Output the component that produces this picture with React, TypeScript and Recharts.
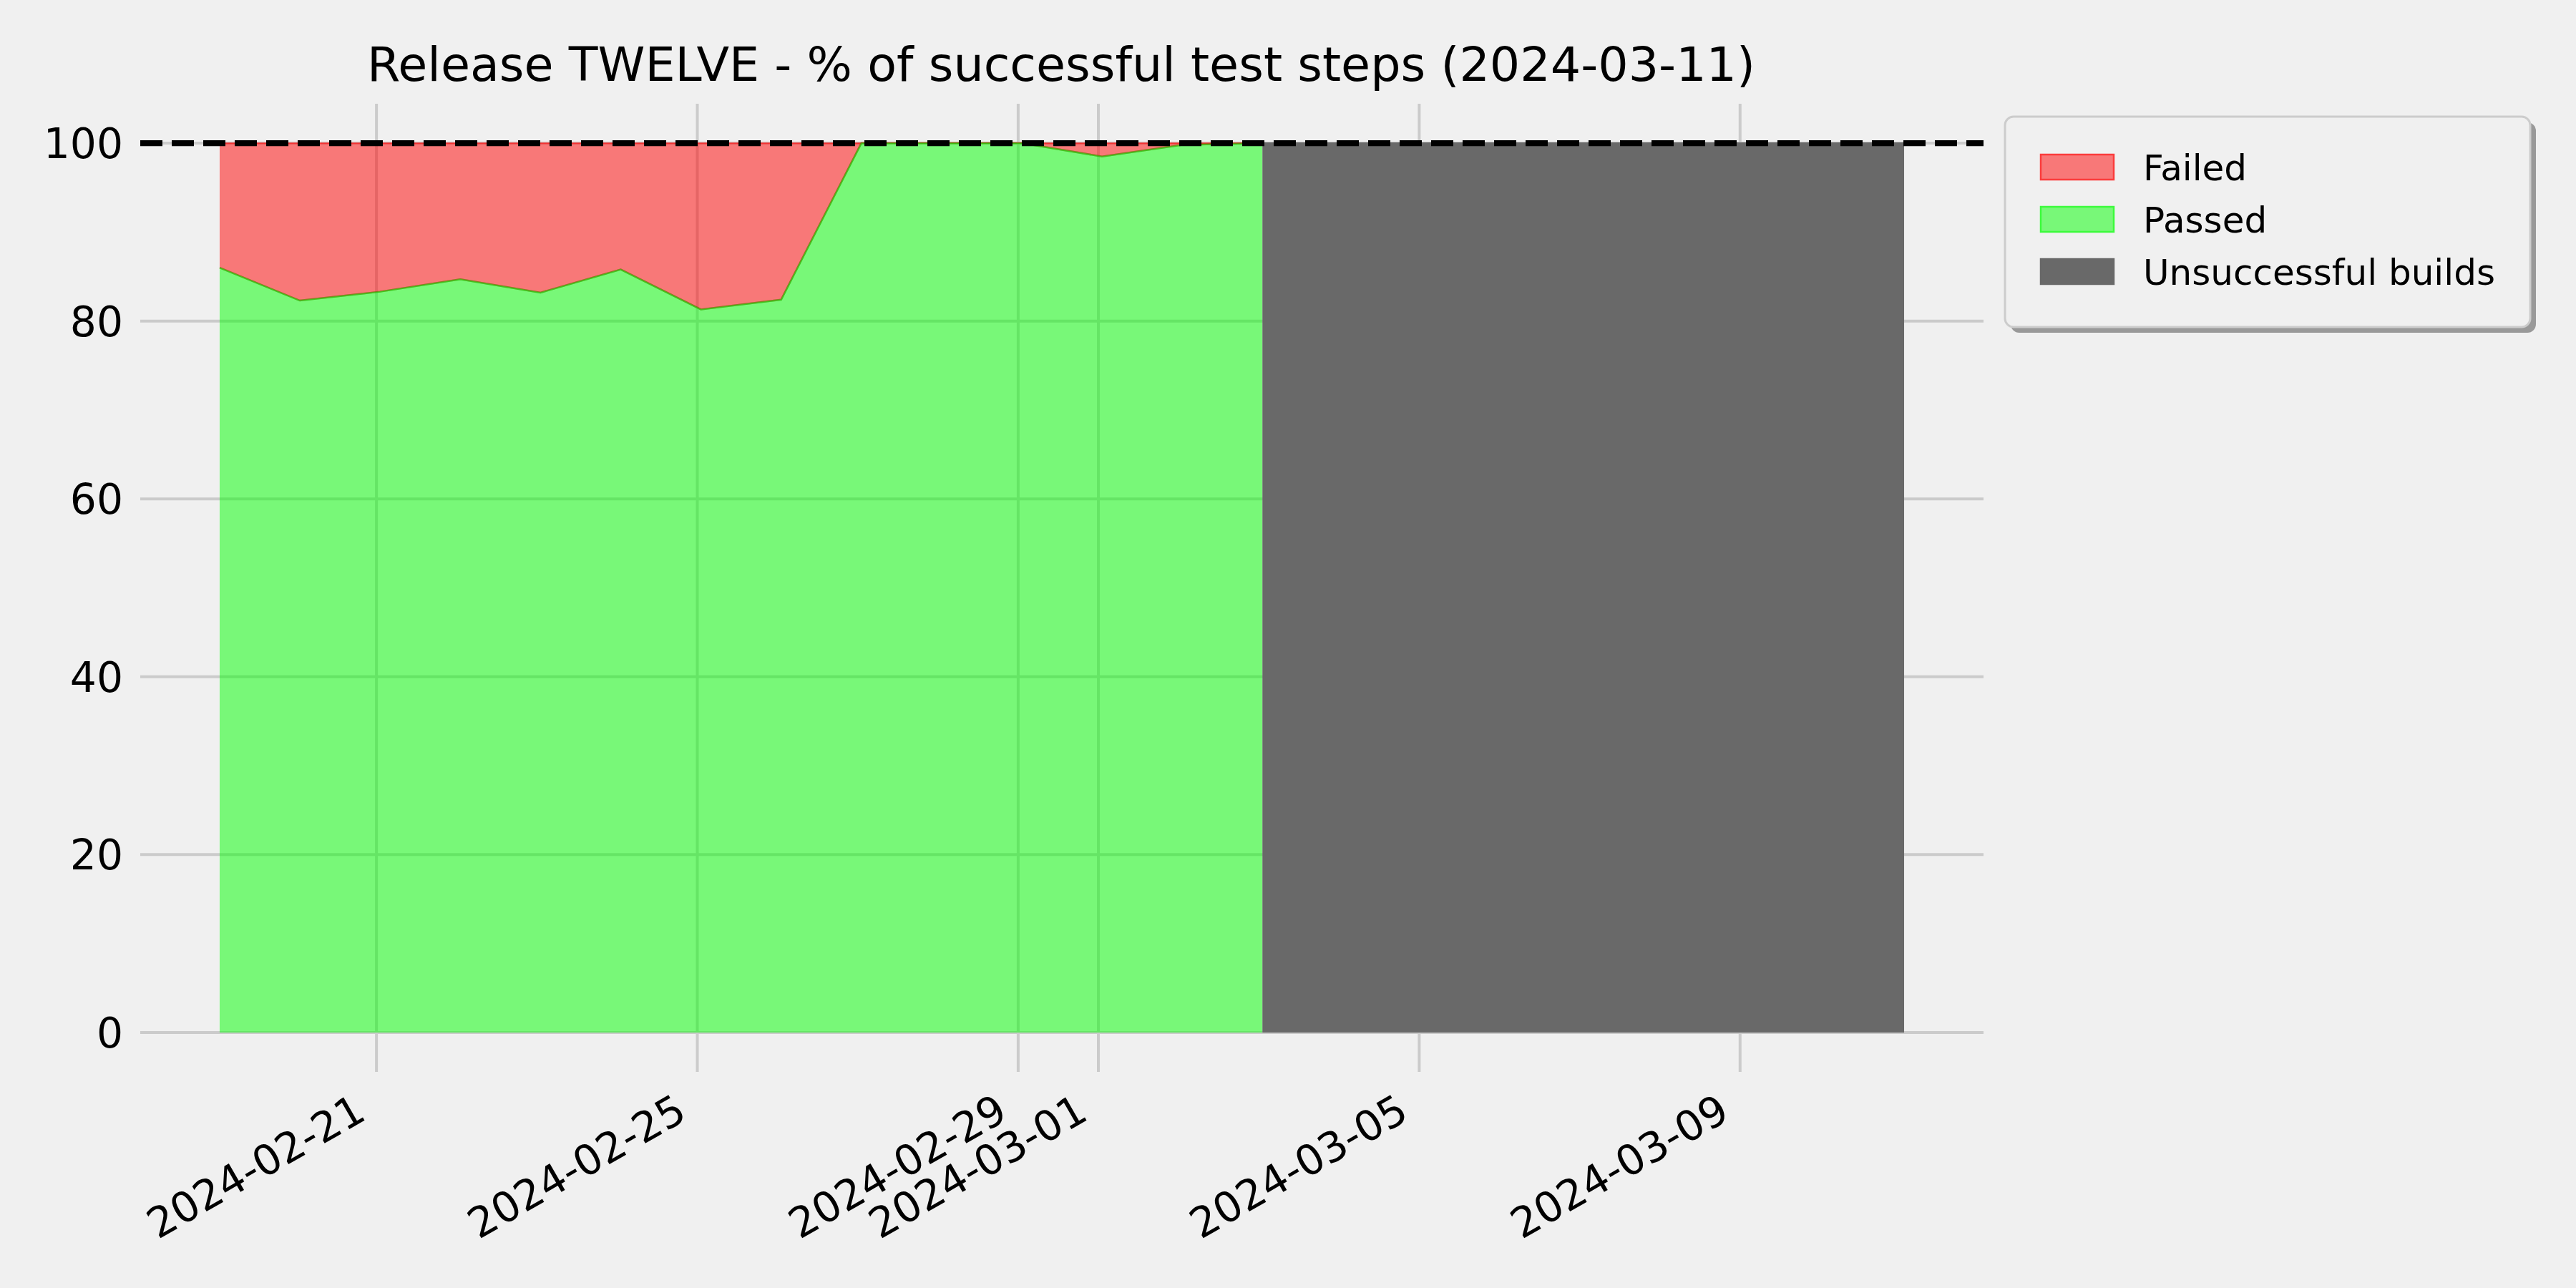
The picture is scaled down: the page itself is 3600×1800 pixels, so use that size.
import React from "react";
import {
  ComposedChart,
  Area,
  XAxis,
  YAxis,
  CartesianGrid,
  ReferenceLine,
} from "recharts";

const DAY_MS = 86400000;
// builds finish a bit after midnight, so each point sits ~1h right of its date tick
const BUILD_OFFSET = 0.045;
const X_PAD = 0.99;

const testDates = [
  "2024-02-19", "2024-02-20", "2024-02-21", "2024-02-22", "2024-02-23",
  "2024-02-24", "2024-02-25", "2024-02-26", "2024-02-27", "2024-02-28",
  "2024-02-29", "2024-03-01", "2024-03-02", "2024-03-03",
];
const passedPct = [86.0, 82.3, 83.3, 84.7, 83.2, 85.8, 81.3, 82.4, 100, 100, 100, 98.5, 99.8, 100];
const failedPct = [14.0, 17.7, 16.7, 15.3, 16.8, 14.2, 18.7, 17.6, 0, 0, 0, 1.5, 0.2, 0];

const brokenDates = [
  "2024-03-03", "2024-03-04", "2024-03-05", "2024-03-06", "2024-03-07",
  "2024-03-08", "2024-03-09", "2024-03-10", "2024-03-11",
];
const brokenPct = [100, 100, 100, 100, 100, 100, 100, 100, 100];

const tickDates = ["2024-02-21", "2024-02-25", "2024-02-29", "2024-03-01", "2024-03-05", "2024-03-09"];
const yTicks = [0, 20, 40, 60, 80, 100];

const legendItems = [
  { label: "Failed", fill: "#f87878", edge: "#fb3c3c" },
  { label: "Passed", fill: "#78f878", edge: "#3cfb3c" },
  { label: "Unsuccessful builds", fill: "#696969", edge: "#696969" },
];

const TITLE = "Release TWELVE - % of successful test steps (2024-03-11)";
const FONT = "DejaVu Sans";

const toDay = (s: string) =>
  Date.UTC(+s.slice(0, 4), +s.slice(5, 7) - 1, +s.slice(8, 10)) / DAY_MS;
const fmtDay = (d: number) => new Date(Math.round(d) * DAY_MS).toISOString().slice(0, 10);

type Row = { t: number; passed: number | null; failed: number | null; broken: number | null };

const buildRows = (): Row[] => {
  const all = Array.from(new Set([...testDates, ...brokenDates])).sort();
  return all.map((d) => {
    const i = testDates.indexOf(d);
    const j = brokenDates.indexOf(d);
    return {
      t: toDay(d) + BUILD_OFFSET,
      passed: i >= 0 ? passedPct[i] : null,
      failed: i >= 0 ? failedPct[i] : null,
      broken: j >= 0 ? brokenPct[j] : null,
    };
  });
};

const rows = buildRows();
const xMin = rows[0].t - X_PAD;
const xMax = rows[rows.length - 1].t + X_PAD;
const tickDays = tickDates.map(toDay);

const DateTick = (props: any) => {
  const { x, y, payload } = props;
  const ax = x - 12;
  const ay = y + 65;
  return (
    <text
      x={ax}
      y={ay}
      textAnchor="end"
      transform={`rotate(-30, ${ax}, ${ay})`}
      fontSize={58.3}
      fontFamily={FONT}
      fill="#000"
    >
      {fmtDay(payload.value)}
    </text>
  );
};

const PctTick = (props: any) => {
  const { x, y, payload } = props;
  return (
    <text x={x} y={y} dy={21} textAnchor="end" fontSize={58.3} fontFamily={FONT} fill="#000">
      {payload.value}
    </text>
  );
};

const App: React.FC = () => {
  return (
    <div
      style={{
        position: "absolute",
        left: 0,
        top: 0,
        width: 3600,
        height: 1800,
        background: "#f0f0f0",
      }}
    >
      <ComposedChart
        width={3600}
        height={1800}
        data={rows}
        margin={{ top: 145, right: 828, bottom: 0, left: 0 }}
      >
        <CartesianGrid
          stroke="#cbcbcb"
          strokeWidth={4}
          horizontalValues={yTicks}
          verticalValues={tickDays}
        />
        <XAxis
          dataKey="t"
          type="number"
          domain={[xMin, xMax]}
          ticks={tickDays}
          interval={0}
          allowDataOverflow
          axisLine={false}
          tickLine={false}
          tickSize={0}
          tickMargin={0}
          height={302}
          tick={(p: any) => <DateTick {...p} />}
        />
        <YAxis
          type="number"
          domain={[-4.43, 104.43]}
          ticks={yTicks}
          interval={0}
          allowDataOverflow
          axisLine={false}
          tickLine={false}
          tickSize={0}
          tickMargin={24}
          width={196}
          tick={(p: any) => <PctTick {...p} />}
        />
        <Area
          name="Failed"
          type="linear"
          dataKey={(r: Row) => (r.passed == null || r.failed == null ? null : [r.passed, r.passed + r.failed])}
          fill="#ff0000"
          fillOpacity={0.5}
          stroke="#ff0000"
          strokeOpacity={0.5}
          strokeWidth={2.5}
          dot={false}
          activeDot={false}
          isAnimationActive={false}
        />
        <Area
          name="Passed"
          type="linear"
          dataKey="passed"
          baseValue={0}
          fill="#00ff00"
          fillOpacity={0.5}
          stroke="#00d000"
          strokeOpacity={0.5}
          strokeWidth={2.5}
          dot={false}
          activeDot={false}
          isAnimationActive={false}
        />
        <Area
          name="Unsuccessful builds"
          type="linear"
          dataKey="broken"
          baseValue={0}
          fill="#696969"
          fillOpacity={1}
          stroke="#696969"
          strokeWidth={2}
          dot={false}
          activeDot={false}
          isAnimationActive={false}
        />
        <ReferenceLine y={100} stroke="#000" strokeWidth={8.3} strokeDasharray="31 13" />
      </ComposedChart>

      <svg
        width={3600}
        height={1800}
        style={{ position: "absolute", left: 0, top: 0, pointerEvents: "none" }}
      >
        <text x={1483} y={113} textAnchor="middle" fontSize={66.7} fontFamily={FONT} fill="#000">
          {TITLE}
        </text>
        <rect x={2810} y={171} width={734} height={294} rx={12} fill="#999999" />
        <rect
          x={2802}
          y={163}
          width={734}
          height={294}
          rx={12}
          fill="#f0f0f0"
          stroke="#cccccc"
          strokeWidth={3}
        />
        {legendItems.map((it, k) => (
          <g key={it.label}>
            <rect
              x={2852}
              y={216 + k * 73}
              width={102}
              height={35}
              fill={it.fill}
              stroke={it.edge}
              strokeWidth={2.5}
            />
            <text x={2995} y={252 + k * 73} fontSize={50} fontFamily={FONT} fill="#000">
              {it.label}
            </text>
          </g>
        ))}
      </svg>
    </div>
  );
};

export default App;
